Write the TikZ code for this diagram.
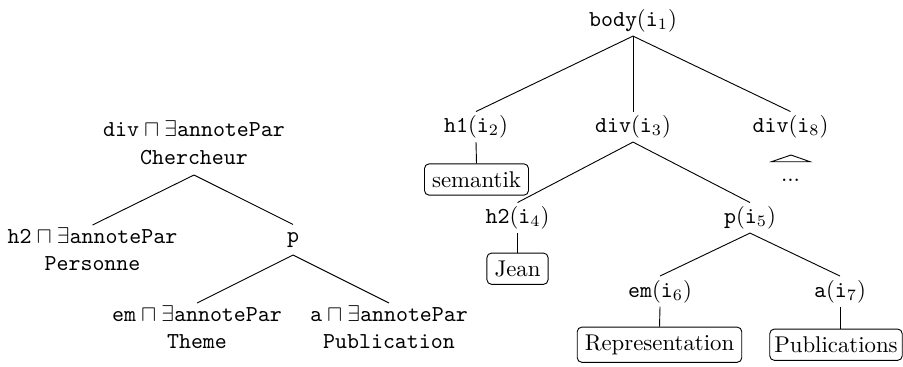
\documentclass[tikz,border=0pt]{standalone}
\begin{document}
\begin{tikzpicture}[x=0.4386pt,y=-0.4386pt,
  two/.style={align=center, inner xsep=1pt, inner ysep=1pt},
  lab/.style={anchor=base, text height=7.5pt, text depth=2.5pt, inner xsep=1pt, inner ysep=1.5pt},
  bx/.style={draw, rounded corners=2pt, inner sep=0.3333em},
  edge/.style={line width=0.4pt}]
\useasboundingbox (0,0) rectangle (903,366);
% ---- left tree ----
\node[two, anchor=south, inner ysep=4.5pt] (L0) at (194,175) {$\mathtt{div}\sqcap\exists\mathtt{annotePar}$\\\texttt{Chercheur}};
\node[two, anchor=north] (L1) at (92.5,225) {$\mathtt{h2}\sqcap\exists\mathtt{annotePar}$\\\texttt{Personne}};
\node[anchor=base, text height=6.5pt, text depth=4.5pt, inner xsep=1pt, inner ysep=1pt] (L2) at (293,242) {\texttt{p}};
\node[two, anchor=north] (L3) at (197,303) {$\mathtt{em}\sqcap\exists\mathtt{annotePar}$\\\texttt{Theme}};
\node[two, anchor=north] (L4) at (389,303) {$\mathtt{a}\sqcap\exists\mathtt{annotePar}$\\\texttt{Publication}};
\draw[edge] (L0.south) -- (L1.north);
\draw[edge] (L0.south) -- (L2.north);
\draw[edge] (L2.south) -- (L3.north);
\draw[edge] (L2.south) -- (L4.north);
% ---- right tree ----
\node[lab] (R1) at (633,26.5) {$\mathtt{body}(\mathtt{i}_1)$};
\node[lab] (R2) at (476,132.5) {$\mathtt{h1}(\mathtt{i}_2)$};
\node[lab] (R3) at (633,132.5) {$\mathtt{div}(\mathtt{i}_3)$};
\node[lab] (R8) at (790.5,132.5) {$\mathtt{div}(\mathtt{i}_8)$};
\node[lab] (R4) at (517.5,223.5) {$\mathtt{h2}(\mathtt{i}_4)$};
\node[lab] (R5) at (750,223.5) {$\mathtt{p}(\mathtt{i}_5)$};
\node[lab] (R6) at (660,297) {$\mathtt{em}(\mathtt{i}_6)$};
\node[lab] (R7) at (840,297) {$\mathtt{a}(\mathtt{i}_7)$};
\node[bx] (B2) at (476.5,179.5) {semantik};
\node[bx] (B4) at (517.5,268.7) {Jean};
\node[bx] (B6) at (659.5,344.7) {Representation};
\node[bx, inner xsep=2pt] (B7) at (836,344.7) {Publications};
\node[anchor=base, inner sep=0pt] (D8) at (790.5,181.5) {...};
\coordinate (A8) at (791,155);
\coordinate (A8l) at (771.5,161.7);
\coordinate (A8r) at (810,161.7);
\draw[edge] (R1.south) -- (R2.north);
\draw[edge] (R1.south) -- (R3.north);
\draw[edge] (R1.south) -- (R8.north);
\draw[edge] (R2.south) -- (B2.north);
\draw[edge] (R3.south) -- (R4.north);
\draw[edge] (R3.south) -- (R5.north);
\draw[edge] (R4.south) -- (B4.north);
\draw[edge] (R5.south) -- (R6.north);
\draw[edge] (R5.south) -- (R7.north);
\draw[edge] (R6.south) -- (B6.north);
\draw[edge] (R7.south) -- (R7.south |- B7.north);
\draw[edge] (A8) -- (A8l) -- (A8r) -- cycle;
\end{tikzpicture}
\end{document}
